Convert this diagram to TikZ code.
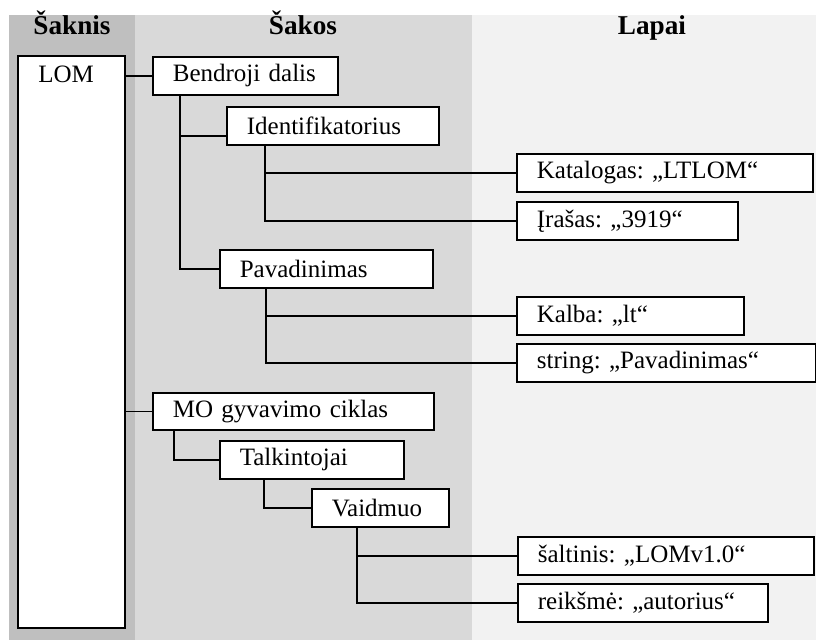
\documentclass[tikz,border=0pt]{standalone}
\usepackage{fontspec}
\setmainfont{Liberation Serif}
\usetikzlibrary{calc}
\definecolor{colroot}{HTML}{BFBFBF}
\definecolor{colbranch}{HTML}{D9D9D9}
\definecolor{colleaf}{HTML}{F2F2F2}
\frenchspacing
\begin{document}
\begin{tikzpicture}[x=0.5pt,y=-0.5pt,
  box/.style={draw=black, line width=0.85pt, fill=white, anchor=north west,
    minimum height=19pt, inner xsep=10pt, inner ysep=0pt, align=left,
    font=\fontsize{12.5}{14}\selectfont},
  head/.style={anchor=base, font=\fontsize{13.6}{15}\selectfont\bfseries},
  conn/.style={draw=black, line width=0.8pt}]
\useasboundingbox (0,0) rectangle (816,640);
% column backgrounds
\fill[colroot] (9,15) rectangle (135,640);
\fill[colbranch] (135,15) rectangle (472,640);
\fill[colleaf] (472,15) rectangle (816,640);
% headers
\node[head] (h1) at (72,35) {Šaknis};
\node[head] (h2) at (303,35) {Šakos};
\node[head] (h3) at (652,35) {Lapai};
% root
\node[draw=black, line width=0.85pt, fill=white, anchor=north west, minimum width=53.5pt,
  minimum height=286pt, inner sep=0pt] (lom) at (17,55) {};
\node[anchor=base west, inner sep=0pt, font=\fontsize{12.5}{14}\selectfont] (lomt) at (38,83) {LOM};
% branches and leaves
\node[box, text width=72.5pt] (bd) at (152,56) {Bendroji dalis};
\node[box, text width=86pt] (id) at (226,106) {Identifikatorius};
\node[box, text width=128pt] (kat) at (516,153) {Katalogas: „LTLOM“};
\node[box, text width=90.5pt] (ir) at (516,201) {Įrašas: „3919“};
\node[box, text width=86.5pt] (pav) at (219,249) {Pavadinimas};
\node[box, text width=93.5pt] (kal) at (516,296) {Kalba: „lt“};
\node[box, text width=129.5pt] (str) at (516,343) {string: „Pavadinimas“};
\node[box, text width=120.5pt, minimum height=18.5pt] (mo) at (152,392) {MO gyvavimo ciklas};
\node[box, text width=72pt] (tal) at (219,440) {Talkintojai};
\node[box, text width=48.5pt] (vai) at (311,488) {Vaidmuo};
\node[box, text width=128pt] (sal) at (517,536) {šaltinis: „LOMv1.0“};
\node[box, text width=105pt] (rei) at (517,583) {reikšmė: „autorius“};
% connectors
\path[conn] (lom.east |- bd.west) -- (bd.west);
\path[conn] (lom.east |- mo.west) -- (mo.west);
\path[conn] ($(bd.south west)+(28,0)$) |- ($(id.west)+(0,10)$);
\path[conn] ($(bd.south west)+(28,0)$) |- (pav.west);
\path[conn] ($(id.south west)+(39,0)$) |- (kat.west);
\path[conn] ($(id.south west)+(39,0)$) |- (ir.west);
\path[conn] ($(pav.south west)+(47,0)$) |- (kal.west);
\path[conn] ($(pav.south west)+(47,0)$) |- (str.west);
\path[conn] ($(mo.south west)+(22,0)$) |- (tal.west);
\path[conn] ($(tal.south west)+(45,0)$) |- (vai.west);
\path[conn] ($(vai.south west)+(46,0)$) |- (sal.west);
\path[conn] ($(vai.south west)+(46,0)$) |- (rei.west);
\end{tikzpicture}
\end{document}
